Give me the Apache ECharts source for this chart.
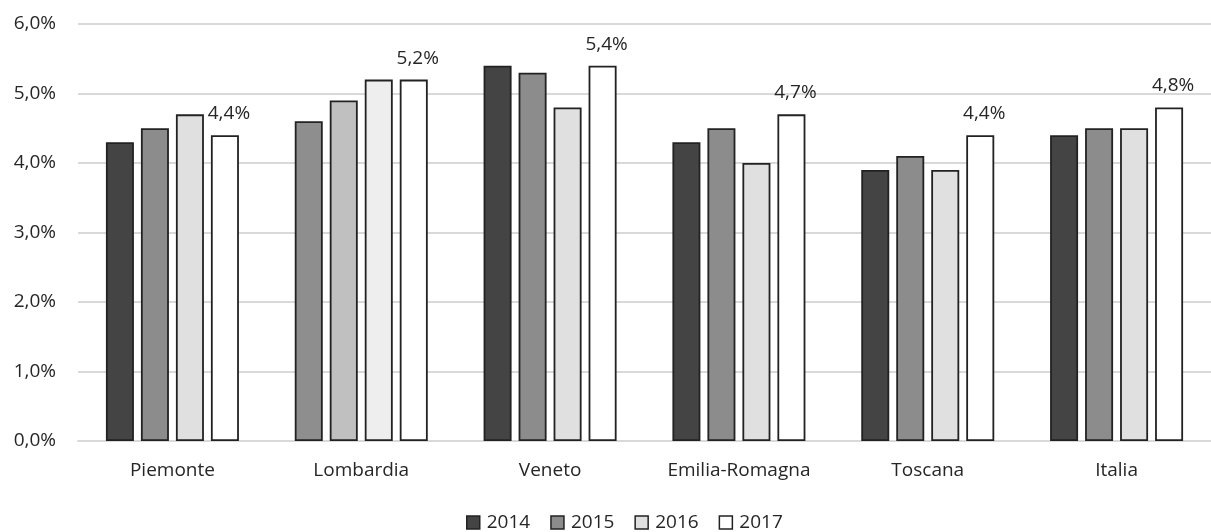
<!DOCTYPE html>
<html>
<head>
<meta charset="utf-8">
<script src="https://cdn.jsdelivr.net/npm/echarts@6/dist/echarts.min.js"></script>
<style>html,body{margin:0;padding:0;background:#fff}#c{width:1211px;height:532px}</style>
</head>
<body>
<div id="c"></div>
<script>
var categories = ['Piemonte', 'Lombardia', 'Veneto', 'Emilia-Romagna', 'Toscana', 'Italia'];
var years = ['2014', '2015', '2016', '2017'];
var v2014 = [4.3, 4.6, 5.4, 4.3, 3.9, 4.4];
var v2015 = [4.5, 4.9, 5.3, 4.5, 4.1, 4.5];
var v2016 = [4.7, 5.2, 4.8, 4.0, 3.9, 4.5];
var v2017 = [4.4, 5.2, 5.4, 4.7, 4.4, 4.8];
var yTicks = [0, 1, 2, 3, 4, 5, 6];

var colors = ['#444444', '#8c8c8c', '#e0e0e0', '#ffffff'];
var lombardiaColors = ['#8e8e8e', '#c0c0c0', '#eeeeee', '#ffffff'];
var values = [v2014, v2015, v2016, v2017];
var font = '"Open Sans", "Noto Sans", sans-serif';
var textColor = '#262626';
function fmt(v) { return v.toFixed(1).replace('.', ',') + '%'; }

var series = years.map(function (y, i) {
  return {
    name: y,
    type: 'bar',
    data: values[i],
    barWidth: 28,
    barGap: '25%',
    itemStyle: {
      color: function (p) { return p.dataIndex === 1 ? lombardiaColors[i] : colors[i]; },
      borderColor: '#222222',
      borderWidth: 1.8
    },
    label: i === 3 ? {
      show: true, position: 'top', distance: 12, offset: [4, 0],
      formatter: function (p) { return fmt(p.value); },
      fontFamily: font, fontSize: 19, color: textColor
    } : { show: false }
  };
});

var chart = echarts.init(document.getElementById('c'));
chart.setOption({
  animation: false,
  backgroundColor: '#fff',
  color: colors,
  legend: {
    top: 508, left: 461, icon: 'rect',
    itemWidth: 13, itemHeight: 13, itemGap: 20,
    textStyle: { fontFamily: font, fontSize: 19, color: textColor, padding: [0, 0, 0, 2] },
    data: years.map(function (y, i) { return { name: y, itemStyle: { color: colors[i], borderColor: '#222', borderWidth: 1.5 } }; })
  },
  grid: { left: 78, top: 24, width: 1143, height: 417 },
  xAxis: {
    type: 'category', data: categories,
    axisLine: { lineStyle: { color: '#d9d9d9', width: 2 } },
    axisTick: { show: false },
    axisLabel: { fontFamily: font, fontSize: 19, color: textColor, margin: 20 }
  },
  yAxis: {
    type: 'value', min: yTicks[0], max: yTicks[yTicks.length - 1], interval: 1,
    axisLine: { show: false }, axisTick: { show: false },
    splitLine: { lineStyle: { color: '#d9d9d9', width: 2 } },
    axisLabel: { fontFamily: font, fontSize: 19, color: textColor, margin: 22, formatter: function (v) { return fmt(v); } }
  },
  series: series
});
</script>
</body>
</html>
